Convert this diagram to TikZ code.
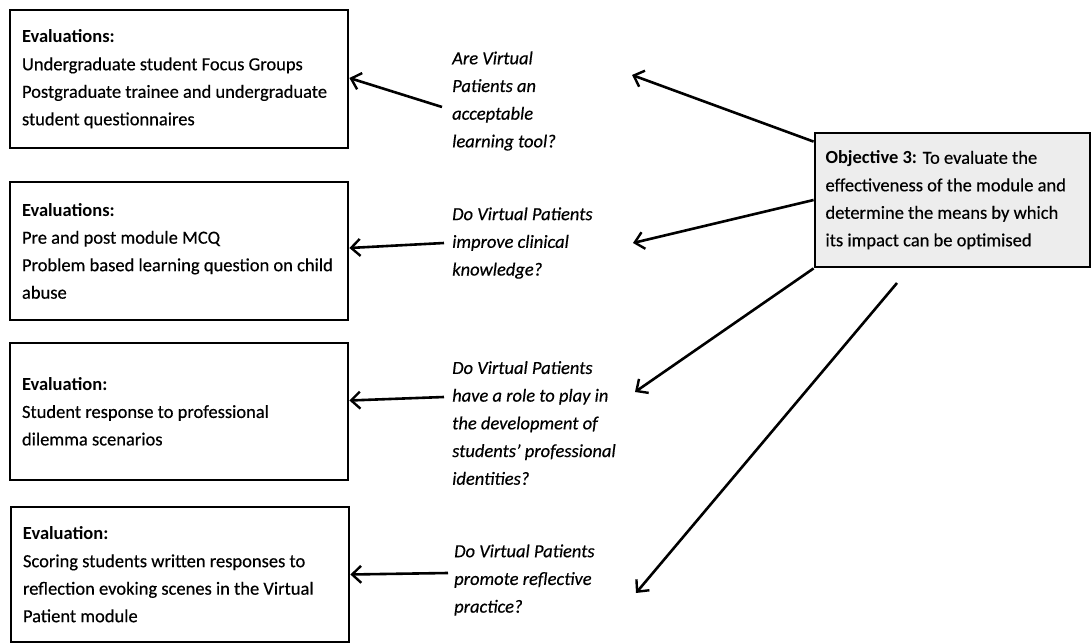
\documentclass[tikz,border=0pt]{standalone}
\usepackage{fontspec}
\setmainfont{Carlito}[UprightFeatures={FakeBold=0.4},ItalicFeatures={FakeBold=0.4}]
\usetikzlibrary{arrows.meta,calc}
\begin{document}
\begin{tikzpicture}[x=1pt,y=-1pt,
  evalbox/.style={draw, line width=2.8pt, minimum width=338pt, minimum height=138pt,
    text width=314pt, align=flush left, inner sep=11pt, font=\fontsize{18.5}{27.5}\selectfont},
  objbox/.style={draw, line width=2.8pt, fill=gray!14, minimum width=275pt, minimum height=134pt,
    text width=254pt, align=flush left, inner sep=10pt, font=\fontsize{18.5}{27.5}\selectfont},
  question/.style={anchor=west, align=flush left, inner sep=2pt,
    font=\fontsize{18.5}{27.7}\selectfont\itshape},
  conn/.style={line width=2.6pt, -{Straight Barb[length=9pt,width=17pt,line width=2.4pt]}}]
\useasboundingbox (0,0) rectangle (1092,644);

% evaluation boxes on the left
\node[evalbox] (b1) at (179,79) {\textbf{Evaluations:}\\Undergraduate student Focus Groups\\Postgraduate trainee and undergraduate\\student questionnaires};
\node[evalbox] (b2) at (179,251) {\textbf{Evaluations:}\\Pre and post module MCQ\\Problem based learning question on child\\abuse};
\node[evalbox, minimum height=137pt] (b3) at (179,411.5) {\textbf{Evaluation:}\\Student response to professional\\dilemma scenarios};
\node[evalbox, minimum height=135pt] (b4) at (180,574.5) {\textbf{Evaluation:}\\Scoring students written responses to\\reflection evoking scenes in the Virtual\\Patient module};

% research questions
\node[question] (q1) at (450,101) {Are Virtual\\Patients an\\acceptable\\learning tool?};
\node[question] (q2) at (450,243) {Do Virtual Patients\\improve clinical\\knowledge?};
\node[question] (q3) at (450,423) {Do Virtual Patients\\have a role to play in\\the development of\\students’ professional\\identities?};
\node[question] (q4) at (452,580) {Do Virtual Patients\\promote reflective\\practice?};

% objective
\node[objbox] (obj) at (952.5,200) {\textbf{Objective 3:} To evaluate the\\effectiveness of the module and\\determine the means by which\\its impact can be optimised};

% free ends of the objective's arrows
\coordinate (t1) at (632,75);
\coordinate (t2) at (633,243);
\coordinate (t3) at (635,392);
\coordinate (t4) at (636,593);
\coordinate (s4) at (897,283);

% questions to evaluations
\draw[conn] ($(q1.west)+(-8,6)$) -- ($(b1.east)+(0,-1)$);
\draw[conn] ($(q2.west)+(-6,0)$) -- ($(b2.east)+(0,-3)$);
\draw[conn] ($(q3.west)+(-6,-26)$) -- ($(b3.east)+(0,-11)$);
\draw[conn] ($(q4.west)+(-4,-7)$) -- (b4.east);

% objective to questions
\draw[conn] ($(obj.north west)+(0,10)$) -- (t1);
\draw[conn] (obj.west) -- (t2);
\draw[conn] (obj.south west) -- (t3);
\draw[conn] (s4) -- (t4);
\end{tikzpicture}
\end{document}
